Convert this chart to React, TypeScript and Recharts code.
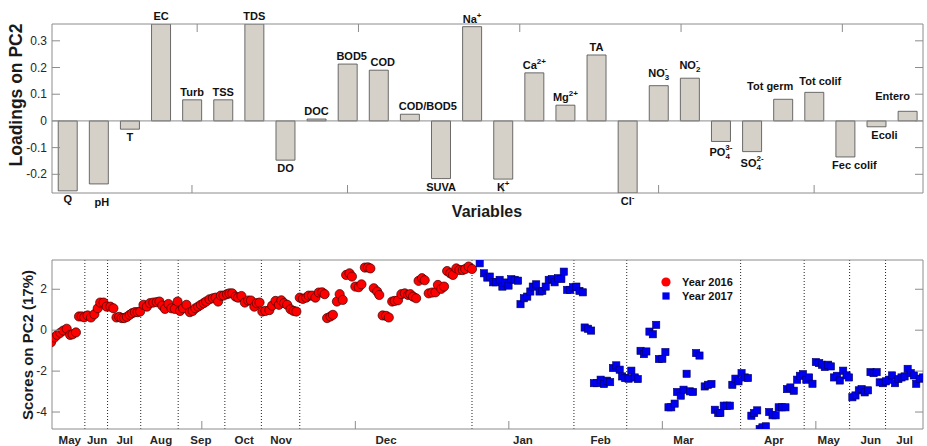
import {
  Bar,
  BarChart,
  LabelList,
  Legend,
  ReferenceLine,
  Scatter,
  ScatterChart,
  XAxis,
  YAxis,
} from "recharts";

// PCA figure: loadings on PC2 (top) and sample scores on PC2 (bottom).
// MATLAB-style box axes: inward ticks on all four sides, drawn with
// 1px-thick axes and custom tick renderers.

const VARIABLES = [
  "Q", "pH", "T", "EC", "Turb", "TSS", "TDS", "DO", "DOC", "BOD5", "COD",
  "COD/BOD5", "SUVA", "Na^+", "K^+", "Ca^{2+}", "Mg^{2+}", "TA", "Cl^-",
  "NO_3^-", "NO_2^-", "PO_4^{3-}", "SO_4^{2-}", "Tot germ", "Tot colif",
  "Fec colif", "Ecoli", "Entero",
];
const LOADINGS_PC2 = [
  -0.262, -0.236, -0.031, 0.363, 0.079, 0.079, 0.363, -0.147, 0.007, 0.213,
  0.19, 0.025, -0.216, 0.353, -0.218, 0.18, 0.059, 0.247, -0.27, 0.132, 0.16,
  -0.077, -0.115, 0.081, 0.107, -0.135, -0.022, 0.036,
];
const LOADING_TICKS = [-0.2, -0.1, 0, 0.1, 0.2, 0.3];

// sample number along the x axis, score on PC2
const X_2016 = [
  0.9, 2.0, 2.9, 3.9, 4.9, 6.0, 7.1, 7.9, 9.0,
  10.0, 10.9, 11.7, 12.8, 13.9, 15.0, 16.1, 16.9, 18.0, 19.0, 20.2, 21.2,
  22.2, 23.1, 23.9, 24.7, 25.6, 26.5, 27.3, 28.2, 29.1, 29.9,
  31.0, 32.1, 33.1, 34.2, 35.3, 36.2, 37.1, 38.0, 39.1, 40.1,
  41.2, 42.1, 42.9, 43.9, 45.0, 46.1, 47.0, 47.9, 48.8, 49.7,
  50.6, 51.4, 52.5, 53.6, 54.5, 55.3, 56.2, 57.1, 58.2, 59.0,
  59.9, 61.0, 61.8, 62.9, 64.0, 65.1, 66.0, 67.1, 67.9, 68.8,
  69.7, 70.7, 72.0,
  72.9, 74.0, 75.1, 75.9, 76.8, 77.8, 78.9, 79.9, 80.8, 81.9,
  82.9, 84.0, 84.8, 85.9, 87.0, 88.1, 89.2, 90.0, 90.8, 91.9,
  92.7, 94.0, 94.9, 95.9, 97.0, 98.1, 98.9, 100.0, 101.1, 102.0,
  103.1, 104.1, 104.9, 106.0, 107.1, 107.8, 108.9, 110.0, 110.9, 112.0,
  112.8, 113.9, 115.0, 116.1, 117.2, 117.9, 118.8, 119.8, 120.6, 121.7,
  122.6, 123.9, 125.0, 126.1, 126.9, 128.0, 128.9, 129.9, 130.9, 131.8,
  132.9, 133.9, 135.0, 135.8, 136.9, 138.0,
];
const SCORE_2016 = [
  -0.59, -0.36, -0.23, -0.13, -0.02, 0.07, -0.23, -0.2, -0.11,
  0.67, 0.67, 0.63, 0.72, 0.62, 0.78, 1.07, 1.35, 1.35, 1.15, 1.15, 1.07,
  0.62, 0.65, 0.59, 0.59, 0.65, 0.75, 0.83, 0.88, 0.88, 0.91,
  1.24, 1.15, 1.32, 1.35, 1.37, 1.4, 1.2, 1.04, 1.28, 1.07,
  1.04, 1.4, 0.94, 1.07, 1.24, 0.88, 0.94, 1.07, 1.15, 1.24,
  1.32, 1.4, 1.51, 1.56, 1.59, 1.4, 1.69, 1.69, 1.76, 1.8,
  1.8, 1.64, 1.59, 1.67, 1.35, 1.45, 1.45, 1.15, 1.32, 1.35,
  0.91, 0.94, 0.98,
  1.2, 1.43, 1.24, 1.46, 1.32, 1.24, 1.02, 0.94, 0.91, 1.59,
  1.53, 1.59, 1.69, 1.69, 1.59, 1.84, 1.85, 1.76, 0.59, 0.67,
  0.75, 1.4, 1.76, 1.48, 2.7, 2.78, 2.62, 2.13, 2.1, 2.24,
  3.06, 3.07, 3.02, 2.05, 1.89, 1.72, 0.72, 0.7, 0.62, 1.4,
  1.43, 1.46, 1.76, 1.8, 1.72, 1.76, 1.64, 1.56, 2.41, 2.54,
  2.44, 1.8, 1.84, 1.85, 2.21, 2.02, 2.13, 2.89, 2.78, 2.7,
  3.02, 2.94, 2.94, 2.99, 3.11, 2.99,
];
const X_2017 = [
  140.5, 141.9, 143.0, 143.8, 144.9, 145.9, 147.0, 147.9, 148.8, 149.9,
  150.8, 151.9, 153.0, 153.8, 154.9, 156.0, 157.0, 157.8, 158.9, 160.0,
  160.9, 162.0, 163.0, 164.0, 164.9, 166.0, 167.1, 167.9, 169.0, 170.0,
  170.9, 172.0, 173.0, 174.1, 174.7, 175.8, 176.8, 177.7, 178.8, 179.9,
  181.0, 182.0, 183.0, 183.9, 185.0, 186.1, 186.9, 187.9, 189.0, 189.9,
  191.0, 192.0, 192.9, 194.0, 194.8, 195.8, 196.9, 198.0, 198.9, 200.0,
  201.0, 202.0, 202.9, 204.0, 204.8, 206.0, 206.9, 207.9, 209.0, 210.0,
  211.0, 212.1,
  213.8, 214.9, 216.0, 217.1, 218.2, 218.9, 220.0, 221.1, 222.0, 222.8,
  223.8, 224.8, 225.8, 226.9, 227.9, 229.0, 229.9, 230.9, 231.7, 232.6,
  233.7, 234.8, 235.9, 236.9, 237.9, 239.0, 240.1, 240.6, 241.7, 242.8,
  243.9, 244.8, 245.8, 246.9, 247.8, 248.9, 250.0, 251.1, 252.0, 252.9,
  254.0, 254.9, 255.9, 256.9, 257.8, 258.9, 260.0, 260.8, 261.9, 262.9,
  264.0, 264.9, 265.9, 267.0, 267.8, 268.8, 269.8, 270.8, 271.9, 272.8,
  273.8, 274.8, 275.8, 276.9, 277.9, 278.9, 279.9, 280.9, 281.9, 282.7,
  283.8, 284.9,
];
const SCORE_2017 = [
  3.27, 2.78, 2.57, 2.62, 2.34, 2.34, 2.46, 2.13, 2.33, 2.18,
  2.49, 2.46, 2.42, 1.27, 1.56, 1.64, 1.89, 2.13, 2.24, 1.89,
  1.92, 2.13, 2.46, 2.5, 2.34, 2.54, 2.5, 2.86, 1.97, 1.97,
  2.1, 2.13, 1.92, 1.85, 0.13, 0.07, -0.02, -2.59, -2.59, -2.42,
  -2.63, -2.47, -2.54, -1.85, -1.72, -1.93, -2.26, -2.34, -2.37, -1.98,
  -2.31, -2.39, -1.01, -1.17, -1.04, -0.07, -0.2, 0.26, -1.41, -1.4,
  -1.07, -3.77, -3.77, -3.59, -3.02, -3.2, -2.91, -2.13, -2.99, -3.02,
  -1.12, -1.24,
  -2.75, -2.67, -2.63, -3.89, -4.05, -4.05, -3.69, -3.69, -3.69, -2.67,
  -2.37, -2.5, -2.1, -2.31, -2.34, -4.18, -4.05, -3.92, -4.83, -4.75,
  -4.7, -4.0, -4.16, -4.16, -3.77, -3.77, -3.77, -2.88, -2.8, -2.96,
  -2.42, -2.23, -2.15, -2.42, -2.31, -2.62, -1.56, -1.61, -1.69, -1.8,
  -1.69, -1.77, -2.31, -2.23, -2.46, -1.98, -2.21, -2.31, -3.28, -3.19,
  -2.94, -2.88, -3.04, -2.94, -2.05, -2.1, -2.05, -2.55, -2.59, -2.5,
  -2.42, -2.21, -2.59, -2.39, -2.31, -2.26, -1.89, -2.1, -2.21, -2.62,
  -2.37, -2.31,
];
const SERIES_NAMES = ["Year 2016", "Year 2017"];
const SCORE_TICKS = [-4, -2, 0, 2];
const SAMPLE_TICKS = [50, 100, 150, 200, 250];

// month labels (centred) and dotted month boundaries, in sample numbers
const MONTHS = ["May", "Jun", "Jul", "Aug", "Sep", "Oct", "Nov", "Dec", "Jan", "Feb", "Mar", "Apr", "May", "Jun", "Jul"];
const MONTH_POS = [7.0, 15.9, 24.9, 36.7, 49.7, 63.8, 75.8, 110, 154.6, 179.9, 206.9, 236.3, 254.2, 267.9, 278.9];
const MONTH_BOUNDS = [11.9, 19.3, 30.1, 42.3, 57.5, 69.4, 81.9, 138.0, 171.2, 188.4, 225.5, 246.2, 261.0, 272.7];

const FONT = '"Liberation Sans", Arial, Helvetica, sans-serif';
const FRAME = "#8c8c8c";
const INK = "#262626";
const BAR_FILL = "#d5d1c9";
const TICK = 8;
const SAMPLE_DOMAIN: [number, number] = [1.2, 284.9];

// hand nudges for bar labels that sit off-centre in the original
const LABEL_NUDGE: Record<string, [number, number]> = {
  pH: [3, 10],
  BOD5: [4, 0],
  COD: [4, 0],
  "COD/BOD5": [18, 0],
  "Tot germ": [-13, -5],
  "Tot colif": [6, -3],
  "Fec colif": [9, 0],
  Ecoli: [8, 0],
  Entero: [-15, -7],
};

function parseLabel(s: string) {
  const m = s.match(/^([^_^]+)(?:_\{?([^}^]+)\}?)?(?:\^\{?([^}]+)\}?)?$/);
  return { base: m ? m[1] : s, sub: (m && m[2]) || "", sup: (m && m[3]) || "" };
}

// shared props for the thin box axes; tickSize/tickMargin = 0 puts the
// custom tick's x/y right on the axis line
const boxAxis = {
  tickSize: 0,
  tickMargin: 0,
  tickLine: false,
  axisLine: { stroke: FRAME },
  allowDataOverflow: true,
} as const;

const leftTick = (fmt: (v: number) => string) => (p: any) => (
  <g>
    <line x1={p.x} x2={p.x + TICK} y1={p.y} y2={p.y} stroke={FRAME} />
    <text x={p.x - 5} y={p.y} dy={4} textAnchor="end" fontSize={12} fill={INK}>
      {fmt(p.payload.value)}
    </text>
  </g>
);
const rightTick = (p: any) => <line x1={p.x} x2={p.x - TICK} y1={p.y} y2={p.y} stroke={FRAME} />;
const topTick = (p: any) => <line x1={p.x} x2={p.x} y1={p.y} y2={p.y + TICK} stroke={FRAME} />;
const bottomTick = (p: any) => <line x1={p.x} x2={p.x} y1={p.y} y2={p.y - TICK} stroke={FRAME} />;

// bottom axis of the scores panel carries both the inward sample ticks
// and the month names
const SCORE_X_TICKS = [...SAMPLE_TICKS, ...MONTH_POS].sort((a, b) => a - b);
const scoreBottomTick = (p: any) => {
  const v = p.payload.value;
  const m = MONTH_POS.indexOf(v);
  if (m < 0) return bottomTick(p);
  return (
    <text x={p.x} y={p.y + 15} textAnchor="middle" fontSize={11.5} fontWeight="bold" fill={INK}>
      {MONTHS[m]}
    </text>
  );
};

const renderBarLabel = (p: any) => {
  const vb = p.viewBox ?? p;
  const { x, y, width, height } = vb;
  const i = p.index;
  const name = VARIABLES[i];
  const { base, sub, sup } = parseLabel(name);
  const [ndx, ndy] = LABEL_NUDGE[name] ?? [0, 0];
  const top = Math.min(y, y + height);
  const bottom = Math.max(y, y + height);
  const ty = LOADINGS_PC2[i] < 0 ? bottom + 12 + (sub ? 3 : 0) : top - 4 - (sub ? 5 : 0);
  return (
    <text
      key={`lab-${i}`}
      x={x + width / 2 + ndx}
      y={ty + ndy}
      textAnchor="middle"
      fontSize={11}
      fontWeight="bold"
      fill="#111"
    >
      {base}
      {sub && (
        <tspan fontSize={8} dy={3}>
          {sub}
        </tspan>
      )}
      {sup && (
        <tspan fontSize={8} dx={sub ? -sub.length * 4.5 : 0} dy={sub ? -9 : -5}>
          {sup}
        </tspan>
      )}
    </text>
  );
};

function LoadingsChart() {
  const data = VARIABLES.map((name, i) => ({ name, value: LOADINGS_PC2[i] }));
  const domain: [number, number] = [-0.27, 0.363];
  const everyFifth = [5, 10, 15, 20, 25].map((n) => n - 0.5);
  return (
    <BarChart
      width={927}
      height={220}
      data={data}
      margin={{ top: 23, right: 3, bottom: 26, left: 51 }}
      barCategoryGap="20%"
    >
      <XAxis
        {...boxAxis}
        xAxisId="b"
        dataKey="name"
        interval={0}
        height={1}
        tick={(p: any) => (p.index % 5 === 4 ? bottomTick(p) : <g />)}
      />
      <XAxis
        {...boxAxis}
        xAxisId="t"
        orientation="top"
        type="number"
        domain={[0, VARIABLES.length]}
        ticks={everyFifth}
        height={1}
        tick={topTick}
      />
      <YAxis
        {...boxAxis}
        yAxisId="l"
        type="number"
        domain={domain}
        ticks={LOADING_TICKS}
        width={1}
        tick={leftTick((v) => (v === 0 ? "0" : v.toFixed(1)))}
      />
      <YAxis
        {...boxAxis}
        yAxisId="r"
        orientation="right"
        type="number"
        domain={domain}
        ticks={LOADING_TICKS}
        width={1}
        tick={rightTick}
      />
      <ReferenceLine xAxisId="b" yAxisId="l" y={0} stroke={FRAME} />
      <Bar
        xAxisId="b"
        yAxisId="l"
        dataKey="value"
        fill={BAR_FILL}
        stroke="#4a4a4a"
        strokeWidth={0.8}
        isAnimationActive={false}
      >
        <LabelList dataKey="value" content={renderBarLabel} />
      </Bar>
    </BarChart>
  );
}

const redDot = (p: any) => (
  <circle cx={p.cx} cy={p.cy} r={4.6} fill="#ff0000" stroke="#3a0000" strokeWidth={0.7} />
);
const blueSquare = (p: any) => (
  <rect x={p.cx - 3.6} y={p.cy - 3.6} width={7.2} height={7.2} fill="#0000f0" stroke="#00005a" strokeWidth={0.6} />
);

function ScoresLegend() {
  return (
    <div style={{ fontSize: 11, fontWeight: "bold", color: "#111", fontFamily: FONT }}>
      {SERIES_NAMES.map((name, i) => (
        <div key={name} style={{ display: "flex", alignItems: "center", height: 14.3 }}>
          <svg width={16} height={12}>
            {i === 0 ? (
              <circle cx={8} cy={6} r={4.6} fill="#ff0000" />
            ) : (
              <rect x={4.4} y={2.4} width={7.2} height={7.2} fill="#0000f0" />
            )}
          </svg>
          <span style={{ marginLeft: 8 }}>{name}</span>
        </div>
      ))}
    </div>
  );
}

function ScoresChart() {
  const data2016 = X_2016.map((x, i) => ({ x, y: SCORE_2016[i] }));
  const data2017 = X_2017.map((x, i) => ({ x, y: SCORE_2017[i] }));
  const yDomain: [number, number] = [-4.83, 3.43];
  return (
    <ScatterChart width={927} height={206} margin={{ top: 19, right: 3, bottom: 16, left: 51 }}>
      <XAxis
        {...boxAxis}
        xAxisId="b"
        type="number"
        dataKey="x"
        domain={SAMPLE_DOMAIN}
        ticks={SCORE_X_TICKS}
        interval={0}
        height={1}
        tick={scoreBottomTick}
      />
      <XAxis
        {...boxAxis}
        xAxisId="t"
        orientation="top"
        type="number"
        domain={SAMPLE_DOMAIN}
        ticks={SAMPLE_TICKS}
        height={1}
        tick={topTick}
      />
      <YAxis
        {...boxAxis}
        yAxisId="l"
        type="number"
        dataKey="y"
        domain={yDomain}
        ticks={SCORE_TICKS}
        width={1}
        tick={leftTick((v) => String(v))}
      />
      <YAxis
        {...boxAxis}
        yAxisId="r"
        orientation="right"
        type="number"
        domain={yDomain}
        ticks={SCORE_TICKS}
        width={1}
        tick={rightTick}
      />
      {MONTH_BOUNDS.map((b) => (
        <ReferenceLine key={b} xAxisId="b" yAxisId="l" x={b} stroke="#222" strokeDasharray="1 2" />
      ))}
      <Scatter
        name={SERIES_NAMES[0]}
        data={data2016}
        xAxisId="b"
        yAxisId="l"
        shape={redDot}
        isAnimationActive={false}
      />
      <Scatter
        name={SERIES_NAMES[1]}
        data={data2017}
        xAxisId="b"
        yAxisId="l"
        shape={blueSquare}
        isAnimationActive={false}
      />
      <Legend
        layout="horizontal"
        verticalAlign="middle"
        align="center"
        wrapperStyle={{ left: 658, top: 34.5, width: "auto" }}
        content={() => <ScoresLegend />}
      />
    </ScatterChart>
  );
}

function AxisTitle({ text, cx, cy, size, rotate }: { text: string; cx: number; cy: number; size: number; rotate?: boolean }) {
  return (
    <div
      style={{
        position: "absolute",
        left: cx,
        top: cy,
        transform: `translate(-50%, -50%)${rotate ? " rotate(-90deg)" : ""}`,
        fontSize: size,
        fontWeight: "bold",
        whiteSpace: "nowrap",
        lineHeight: 1,
        color: "#1a1a1a",
      }}
    >
      {text}
    </div>
  );
}

export default function App() {
  return (
    <div
      style={{
        position: "absolute",
        left: 0,
        top: 0,
        width: 927,
        height: 446,
        background: "#fff",
        fontFamily: FONT,
        overflow: "hidden",
      }}
    >
      <div style={{ position: "absolute", left: 0, top: 0 }}>
        <LoadingsChart />
      </div>
      <div style={{ position: "absolute", left: 0, top: 240 }}>
        <ScoresChart />
      </div>
      <AxisTitle text="Loadings on PC2" cx={17} cy={95} size={17.5} rotate />
      <AxisTitle text="Variables" cx={487} cy={212} size={16} />
      <AxisTitle text="Scores on PC2 (17%)" cx={27} cy={345} size={15} rotate />
    </div>
  );
}
